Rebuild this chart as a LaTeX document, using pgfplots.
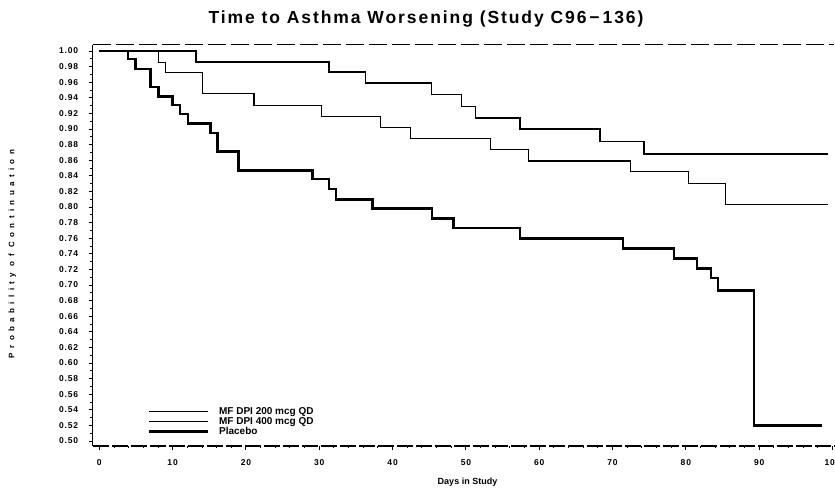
\documentclass[border=0pt]{standalone}
\usepackage{fontspec}
\setmainfont{Liberation Sans}
\newfontfamily\tickfont[LetterSpace=10]{Liberation Sans}
\newfontfamily\spacedfont[LetterSpace=55]{Liberation Sans}
\newfontfamily\titlefont[LetterSpace=11]{Liberation Sans}
\usepackage{pgfplots}
\pgfplotsset{compat=1.18}
\begin{document}
\begin{tikzpicture}
\begin{axis}[
  scale only axis,
  width=741.3pt, height=401pt,
  xmin=-0.9, xmax=100.2,
  ymin=0.4936, ymax=1.0077,
  axis x line*=bottom, axis y line*=left,
  axis line style={line width=1.2pt,-},
  x axis line style={dash pattern=on 16pt off 3pt},
  tick align=outside, tick pos=left,
  xtick={0,10,20,30,40,50,60,70,80,90,100},
  minor x tick num=4,
  ytick={0.50,0.52,0.54,0.56,0.58,0.60,0.62,0.64,0.66,0.68,0.70,0.72,0.74,0.76,0.78,0.80,0.82,0.84,0.86,0.88,0.90,0.92,0.94,0.96,0.98,1.00},
  minor y tick num=1,
  major tick length=4pt, minor tick length=2.5pt,
  every tick/.style={line width=0.9pt, black},
  ticklabel style={font=\tickfont\bfseries\fontsize{8.5}{9}\selectfont},
  yticklabel style={/pgf/number format/fixed, /pgf/number format/fixed zerofill, /pgf/number format/precision=2, /pgf/number format/assume math mode=true, xshift=-7pt},
  xticklabel style={/pgf/number format/assume math mode=true, yshift=-6pt},
  legend style={at={(axis cs:6.55,0.5443)}, anchor=north west, draw=none, fill=none, inner sep=0pt,
    column sep=9pt, font=\bfseries\fontsize{10}{10}\selectfont,
    nodes={inner sep=1pt, text height=6.5pt, text depth=1.5pt}},
  legend image code/.code={\draw[#1] (0pt,0pt) -- (59pt,0pt);},
  legend cell align=left,
]
\coordinate (LL) at (rel axis cs:0,0);
\coordinate (UR) at (rel axis cs:1,1);
\draw[line width=1pt, dash pattern=on 18pt off 5pt] (rel axis cs:0,1) -- (rel axis cs:1,1);

% MF DPI 200 mcg QD (middle curve)
\addplot[const plot, line width=1.1pt, black] coordinates {
(0,1.000) (8.1,0.985) (9.0,0.972) (14.1,0.945) (21.1,0.930) (30.3,0.916)
(38.3,0.902) (42.5,0.888) (53.4,0.874) (58.5,0.859) (72.4,0.845)
(80.4,0.830) (85.4,0.803) (99.4,0.803)};
\addlegendentry{MF DPI 200 mcg QD}

% MF DPI 400 mcg QD (top curve)
\addplot[const plot, line width=1.5pt, black] coordinates {
(0,1.000) (13.2,0.986) (31.3,0.973) (36.3,0.959) (45.3,0.944) (49.4,0.929)
(51.3,0.914) (57.4,0.900) (68.3,0.884) (74.3,0.868) (99.4,0.868)};
\addlegendentry{MF DPI 400 mcg QD}

% Placebo
\addplot[const plot, line width=2.6pt, black] coordinates {
(0,1.000) (3.9,0.990) (4.9,0.977) (7.0,0.954) (8.1,0.942) (10.0,0.931)
(11.0,0.919) (12.1,0.907) (15.2,0.895) (16.1,0.871) (19.0,0.847)
(29.1,0.836) (31.3,0.823) (32.3,0.810) (37.3,0.798) (45.4,0.785)
(48.3,0.773) (57.4,0.760) (71.4,0.747) (78.4,0.734) (81.5,0.721)
(83.4,0.709) (84.4,0.693) (89.3,0.520) (98.5,0.520)};
\addlegendentry{Placebo}
\end{axis}
\path (LL) ++(333.3pt,422pt) node[anchor=base, font=\titlefont\bfseries\fontsize{17.5}{19}\selectfont] {Time to Asthma Worsening (Study C96\,−\,136)};
\path (LL) ++(374.8pt,-39pt) node[anchor=base, font=\bfseries\fontsize{9}{10}\selectfont] {Days in Study};
\path (LL) ++(-80.4pt,192pt) node[rotate=90, font=\spacedfont\bfseries\fontsize{8}{9}\selectfont] {Probability of Continuation};
\pgfresetboundingbox
\path (LL) ++(-92.7pt,-43pt) rectangle ++(835pt,489pt);
\end{tikzpicture}
\end{document}
